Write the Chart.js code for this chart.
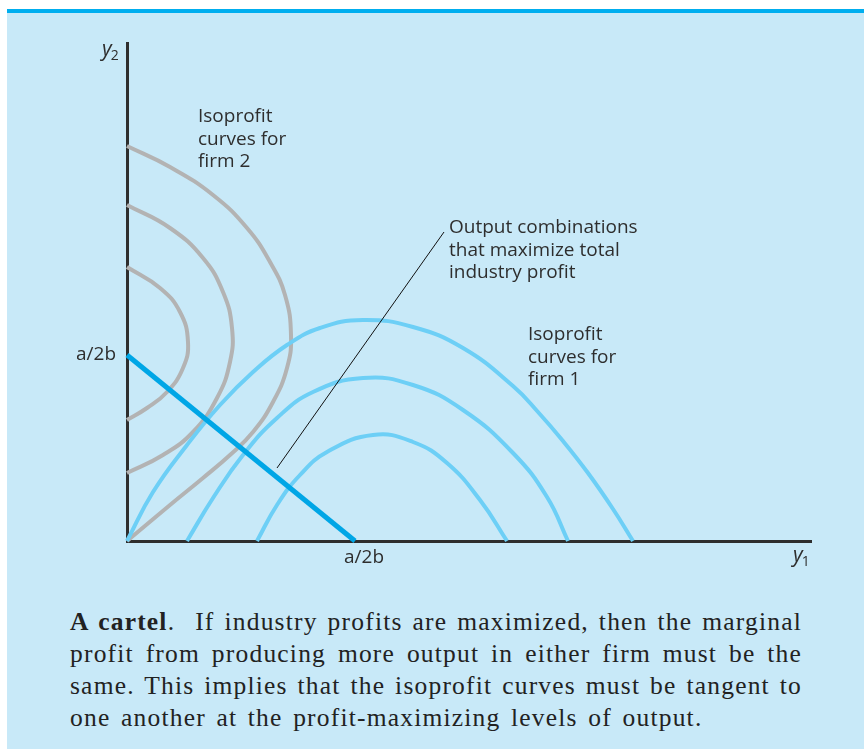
<!DOCTYPE html>
<html>
<head>
<meta charset="utf-8">
<script src="https://cdn.jsdelivr.net/npm/chart.js@4.4.1/dist/chart.umd.min.js"></script>
<style>
  html, body { margin: 0; padding: 0; background: #fff; }
  body { width: 864px; height: 749px; position: relative; overflow: hidden; }
  #panel { position: absolute; left: 7px; top: 9px; right: 0; bottom: 0; background: #c8e9f8; border-top: 4px solid #00aeef; }
  #wrap { position: absolute; left: 0; top: 0; width: 864px; height: 590px; }
  #caption { position: absolute; left: 70px; top: 606px; width: 732px;
    font-family: "Liberation Serif", serif; font-size: 25.5px; letter-spacing: 1.2px;
    line-height: 32px; color: #222; }
  #caption .ln { text-align: justify; text-align-last: justify; white-space: nowrap; }
  #caption .ln.last { text-align-last: left; word-spacing: 3px; }
</style>
</head>
<body>
<div id="panel"></div>
<div id="wrap"><canvas id="cartel"></canvas></div>
<div id="caption">
  <div class="ln"><b>A cartel</b>.&nbsp; If industry profits are maximized, then the marginal</div>
  <div class="ln">profit from producing more output in either firm must be the</div>
  <div class="ln">same. This implies that the isoprofit curves must be tangent to</div>
  <div class="ln last">one another at the profit-maximizing levels of output.</div>
</div>
<script>
// axis ranges (units, origin at the corner)
const X_MAX = 684, Y_MAX = 498;
const A2B_X = 228, A2B_Y = 186;
const X_TICK_LABELS = ['a/2b'];
const Y_TICK_LABELS = ['a/2b'];

// isoprofit curves for firm 1 (hills over the y1 axis)
const F1_OUTER_X = [0, 26, 60, 93, 126, 160, 193, 236, 286, 336, 386, 411, 436, 461, 486, 506];
const F1_OUTER_Y = [0, 49, 96, 136, 169, 196, 213, 221, 214, 193, 155, 129, 100, 68, 32, 0];
const F1_MID_X   = [60, 86, 116, 150, 186, 236, 286, 336, 386, 420, 441];
const F1_MID_Y   = [0, 43, 86, 123, 149, 163, 156, 131, 88, 44, 0];
const F1_INNER_X = [130, 150, 173, 200, 246, 286, 320, 353, 380];
const F1_INNER_Y = [0, 36, 66, 89, 106, 99, 78, 41, 0];

// isoprofit curves for firm 2 (bulging off the y2 axis)
const F2_OUTER_X = [0, 43, 86, 120, 143, 158, 164, 160, 146, 126, 103, 76, 43, 0];
const F2_OUTER_Y = [395, 374, 346, 313, 279, 246, 206, 173, 139, 109, 86, 63, 36, 0];
const F2_MID_X   = [0, 43, 76, 96, 105, 103, 90, 66, 36, 0];
const F2_MID_Y   = [336, 313, 283, 249, 213, 179, 143, 109, 86, 68];
const F2_INNER_X = [0, 33, 53, 61, 56, 40, 20, 0];
const F2_INNER_Y = [274, 253, 229, 199, 173, 149, 133, 121];

// output combinations that maximize industry profit
const CARTEL_X = [0, A2B_X];
const CARTEL_Y = [A2B_Y, 0];

// pointer from the note to the line
const POINTER_X = [150, 317];
const POINTER_Y = [73, 309];

const NOTE_FIRM2  = ['Isoprofit', 'curves for', 'firm 2'];
const NOTE_FIRM1  = ['Isoprofit', 'curves for', 'firm 1'];
const NOTE_OUTPUT = ['Output combinations', 'that maximize total', 'industry profit'];

const GRAY = '#b3b3b3', LIGHT = '#6dcff6', DARK = '#00a6e6', INK = '#2e2e2e';
const SANS = '"Open Sans", Lato, sans-serif';

const pts = (xs, ys) => xs.map((x, i) => ({ x, y: ys[i] }));

function curve(xs, ys, color, width, order) {
  return {
    data: pts(xs, ys),
    showLine: true,
    borderColor: color,
    borderWidth: width,
    pointRadius: 0,
    tension: 0.45,
    fill: false,
    clip: false,
    order,
  };
}

const notes = {
  id: 'notes',
  afterDatasetsDraw(chart) {
    const { ctx, chartArea: a, scales: { x, y } } = chart;
    ctx.save();
    ctx.fillStyle = INK;
    ctx.textBaseline = 'alphabetic';
    ctx.textAlign = 'left';
    ctx.font = '19px ' + SANS;
    const block = (lines, vx, vy) => lines.forEach((s, i) =>
      ctx.fillText(s, x.getPixelForValue(vx), y.getPixelForValue(vy) + i * 22.5));
    block(NOTE_FIRM2, 71, 419);
    block(NOTE_OUTPUT, 322, 308);
    block(NOTE_FIRM1, 401, 201);

    const axisName = (sub, px, py) => {
      ctx.font = 'italic 21px ' + SANS;
      ctx.fillText('y', px, py);
      const w = ctx.measureText('y').width;
      ctx.font = '14px ' + SANS;
      ctx.fillText(sub, px + w - 1, py + 4);
    };
    axisName('2', a.left - 25, a.top + 13);
    axisName('1', a.right - 18, a.bottom + 21);
    ctx.restore();
  }
};

new Chart(document.getElementById('cartel'), {
  type: 'scatter',
  data: {
    datasets: [
      curve(F2_OUTER_X, F2_OUTER_Y, GRAY, 4, 5),
      curve(F2_MID_X, F2_MID_Y, GRAY, 4, 5),
      curve(F2_INNER_X, F2_INNER_Y, GRAY, 4, 5),
      curve(F1_OUTER_X, F1_OUTER_Y, LIGHT, 4, 4),
      curve(F1_MID_X, F1_MID_Y, LIGHT, 4, 4),
      curve(F1_INNER_X, F1_INNER_Y, LIGHT, 4, 4),
      { ...curve(CARTEL_X, CARTEL_Y, DARK, 5, 2), tension: 0 },
      { ...curve(POINTER_X, POINTER_Y, '#111', 1, 1), tension: 0 },
    ]
  },
  options: {
    responsive: true,
    maintainAspectRatio: false,
    animation: false,
    layout: { padding: { left: 77, right: 53, top: 43, bottom: 19 } },
    plugins: { legend: { display: false }, tooltip: { enabled: false } },
    scales: {
      x: {
        type: 'linear', min: 0, max: X_MAX, z: 1,
        grid: { display: false, drawTicks: false, tickLength: 0 },
        border: { display: true, color: INK, width: 3 },
        afterBuildTicks: s => { s.ticks = [{ value: A2B_X }]; },
        afterFit: s => { s.height = 30; },
        ticks: {
          callback: (v, i) => X_TICK_LABELS[i],
          color: INK, font: { family: SANS, size: 19 },
          padding: 5, labelOffset: 9, maxRotation: 0, autoSkip: false,
        },
      },
      y: {
        type: 'linear', min: 0, max: Y_MAX, z: 1,
        grid: { display: false, drawTicks: false, tickLength: 0 },
        border: { display: true, color: INK, width: 3 },
        afterBuildTicks: s => { s.ticks = [{ value: A2B_Y }]; },
        afterFit: s => { s.width = 50; },
        ticks: {
          callback: (v, i) => Y_TICK_LABELS[i],
          color: INK, font: { family: SANS, size: 19 },
          padding: 11, autoSkip: false,
        },
      },
    },
  },
  plugins: [notes],
});
</script>
</body>
</html>
